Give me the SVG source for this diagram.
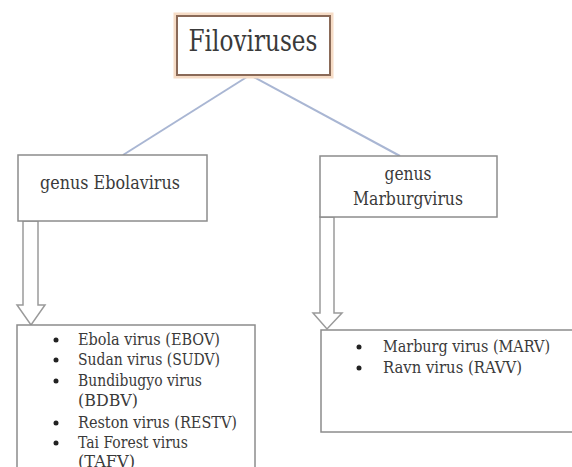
<svg xmlns="http://www.w3.org/2000/svg" width="572" height="467" viewBox="0 0 572 467">
<style>
.box{fill:#fff;stroke:#8c8c8c;stroke-width:1.5}
.t{fill:#3a3a3a}
.conn{stroke:#a9b6d3;stroke-width:2;fill:none}
.arrow{fill:#fff;stroke:#9a9a9a;stroke-width:1.5}
.li{font-size:16px}
</style>
<rect width="572" height="467" fill="#fff"/>
<g id="connectors">
<line class="conn" x1="250" y1="75" x2="123" y2="155"/>
<line class="conn" x1="250" y1="75" x2="400" y2="156"/>
<polygon class="arrow" points="23,221 38,221 38,305 45,305 31,325 17,305 23,305"/>
<polygon class="arrow" points="320,217 334,217 334,313 342,313 327,329 313,313 320,313"/>
</g>
<g font-family="DejaVu Serif, serif">
<g id="filoviruses">
<rect x="176" y="15" width="155" height="61" fill="none" stroke="#f6dcc6" stroke-width="5"/>
<rect x="177" y="16" width="153" height="59" fill="#fff" stroke="#8a6a58" stroke-width="2"/>
<text class="t" x="253" y="51" font-size="29" text-anchor="middle" fill="#2a2a2a" textLength="129" lengthAdjust="spacingAndGlyphs">Filoviruses</text>
</g>
<g id="ebolavirus">
<rect class="box" x="18" y="155" width="189" height="66"/>
<text class="t" x="110" y="189" font-size="19" text-anchor="middle" textLength="140" lengthAdjust="spacingAndGlyphs">genus Ebolavirus</text>
</g>
<g id="marburgvirus">
<rect class="box" x="320" y="156" width="177" height="61"/>
<text class="t" x="408" y="180" font-size="19" text-anchor="middle" textLength="47" lengthAdjust="spacingAndGlyphs">genus</text>
<text class="t" x="408" y="205" font-size="19" text-anchor="middle" textLength="110" lengthAdjust="spacingAndGlyphs">Marburgvirus</text>
</g>
<g id="ebola-list">
<rect class="box" x="17" y="325" width="238" height="160"/>
<g fill="#222">
<circle cx="56" cy="340" r="2.5"/>
<circle cx="56" cy="360" r="2.5"/>
<circle cx="56" cy="381" r="2.5"/>
<circle cx="56" cy="423" r="2.5"/>
<circle cx="56" cy="443" r="2.5"/>
</g>
<text class="t li" x="78" y="345" textLength="142" lengthAdjust="spacingAndGlyphs">Ebola virus (EBOV)</text>
<text class="t li" x="78" y="365" textLength="142" lengthAdjust="spacingAndGlyphs">Sudan virus (SUDV)</text>
<text class="t li" x="78" y="386" textLength="124" lengthAdjust="spacingAndGlyphs">Bundibugyo virus</text>
<text class="t li" x="78" y="406" textLength="60" lengthAdjust="spacingAndGlyphs">(BDBV)</text>
<text class="t li" x="78" y="428" textLength="159" lengthAdjust="spacingAndGlyphs">Reston virus (RESTV)</text>
<text class="t li" x="78" y="448" textLength="110" lengthAdjust="spacingAndGlyphs">Tai Forest virus</text>
<text class="t li" x="78" y="467" textLength="57" lengthAdjust="spacingAndGlyphs">(TAFV)</text>
</g>
<g id="marburg-list">
<rect class="box" x="321" y="330" width="260" height="102"/>
<g fill="#222">
<circle cx="359" cy="347" r="2.5"/>
<circle cx="359" cy="368" r="2.5"/>
</g>
<text class="t li" x="383" y="352" textLength="167" lengthAdjust="spacingAndGlyphs">Marburg virus (MARV)</text>
<text class="t li" x="383" y="373" textLength="139" lengthAdjust="spacingAndGlyphs">Ravn virus (RAVV)</text>
</g>
</g>
</svg>
